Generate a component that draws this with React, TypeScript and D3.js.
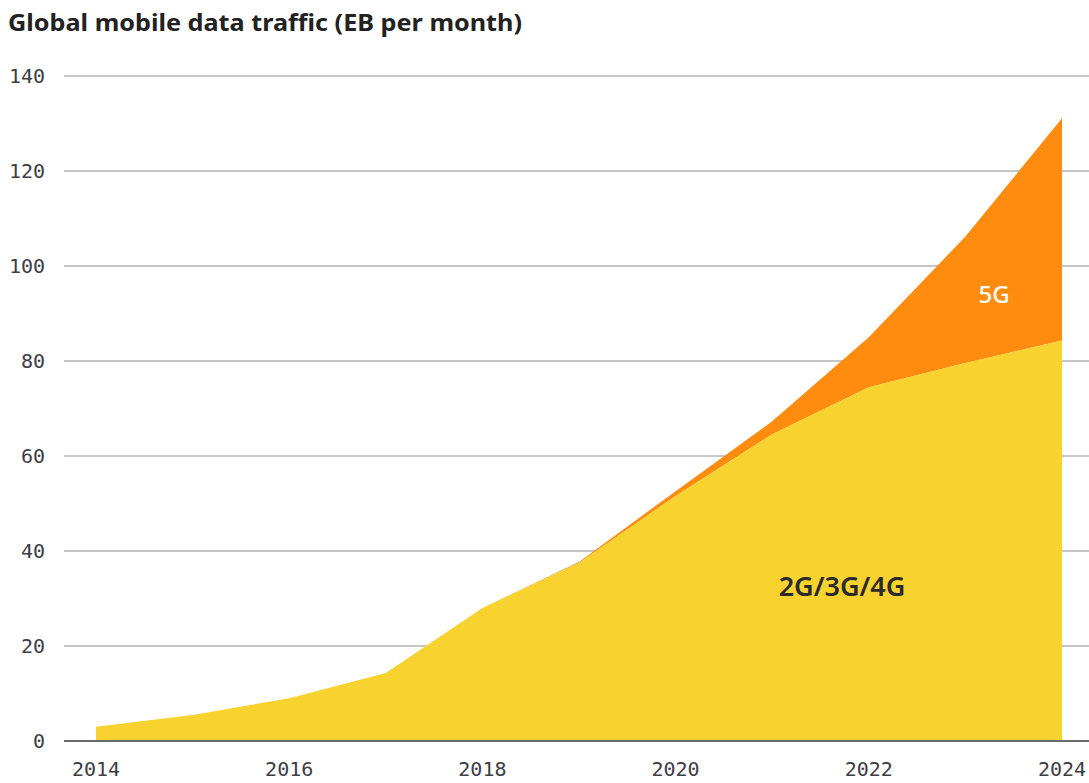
import * as d3 from "d3";

const years = [2014, 2015, 2016, 2017, 2018, 2019, 2020, 2021, 2022, 2023, 2024];
const legacy = [3, 5.5, 9, 14.3, 28, 37.5, 51.6, 64.6, 74.5, 79.6, 84.3];
const fiveG = [0, 0, 0, 0, 0, 0.2, 1, 2.7, 10.5, 26.6, 46.8];
const yTicks = [0, 20, 40, 60, 80, 100, 120, 140];
const xTicks = [2014, 2016, 2018, 2020, 2022, 2024];

const W = 1089;
const H = 783;

export default function App() {
  const x = d3.scaleLinear().domain([2014, 2024]).range([96, 1062]);
  const y = d3.scaleLinear().domain([0, 140]).range([741, 76]);

  const rows = years.map((yr, i) => ({ yr, a: legacy[i], b: legacy[i] + fiveG[i] }));

  const legacyArea = d3.area<any>()
    .x(d => x(d.yr))
    .y0(y(0))
    .y1(d => y(d.a));

  const totalArea = d3.area<any>()
    .x(d => x(d.yr))
    .y0(d => y(d.a))
    .y1(d => y(d.b));

  const mono = "'DejaVu Sans Mono', monospace";
  const sans = "'Noto Sans', Lato, sans-serif";

  return (
    <svg width={W} height={H} style={{ position: "absolute", left: 0, top: 0 }}>
      <rect width={W} height={H} fill="#fff" />
      <text x={8} y={31} fontFamily={sans} fontWeight={700} fontSize={24} fill="#222"
        textLength={514} lengthAdjust="spacingAndGlyphs">
        Global mobile data traffic (EB per month)
      </text>

      {/* grid */}
      {yTicks.filter(t => t > 0).map(t => (
        <line key={t} x1={64} x2={W} y1={y(t)} y2={y(t)} stroke="#c6c6c6" strokeWidth={2} />
      ))}

      <path d={totalArea(rows) || ""} fill="#ff8c0f" />
      <path d={legacyArea(rows) || ""} fill="#f8d22e" />

      <line x1={64} x2={W} y1={y(0)} y2={y(0)} stroke="#6a6a6a" strokeWidth={2} />

      {yTicks.map(t => (
        <text key={t} x={45} y={y(t) + 7} textAnchor="end" fontFamily={mono}
          fontSize={20} fill="#3d3d45">{t}</text>
      ))}
      {xTicks.map(t => (
        <text key={t} x={x(t)} y={776} textAnchor="middle" fontFamily={mono}
          fontSize={20} fill="#3d3d45">{t}</text>
      ))}

      <text x={994} y={303} textAnchor="middle" fontFamily={sans}
        fontSize={24} fontWeight={500} fill="#fff">5G</text>
      <text x={842} y={596} textAnchor="middle" fontFamily={sans}
        fontSize={27} fontWeight={600} fill="#2a2a2a">2G/3G/4G</text>
    </svg>
  );
}
